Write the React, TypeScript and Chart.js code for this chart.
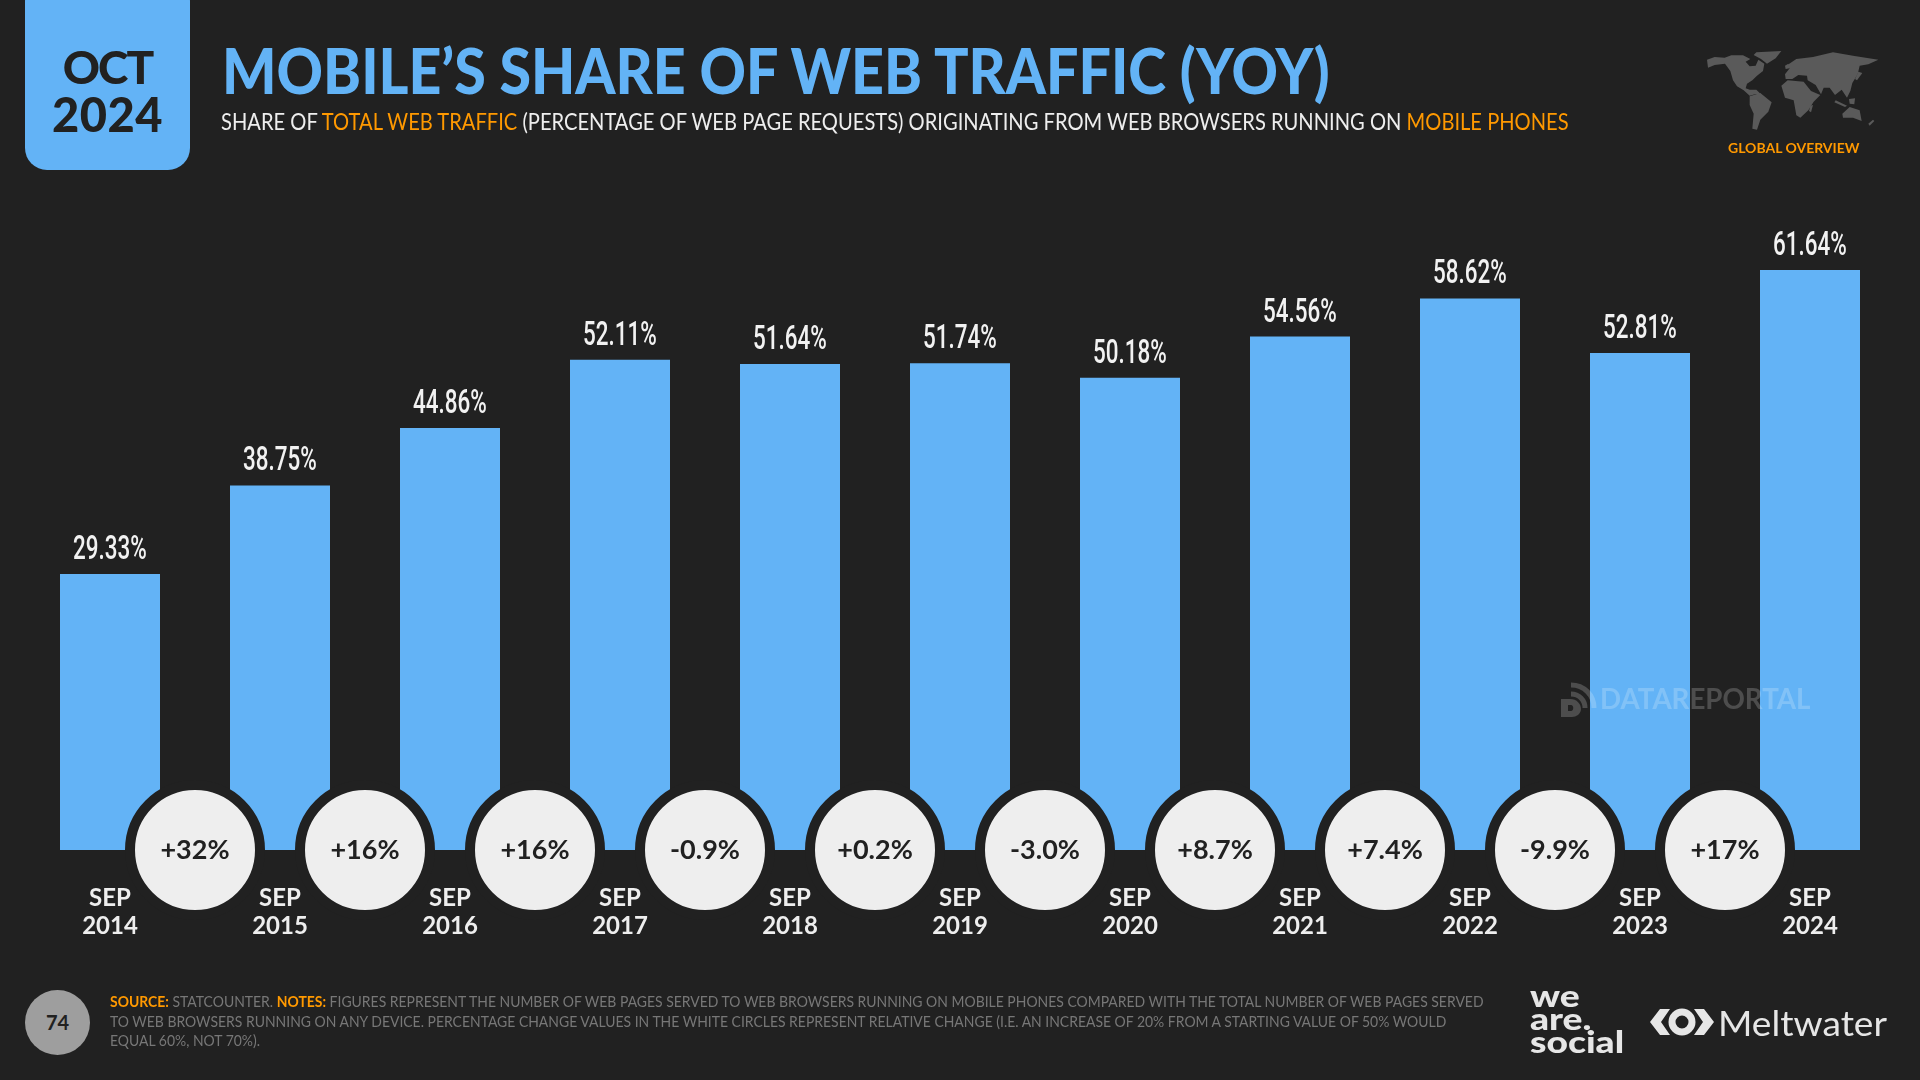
import { useEffect, useRef } from 'react';
import Chart from 'chart.js/auto';

const categories = ['2014', '2015', '2016', '2017', '2018', '2019', '2020', '2021', '2022', '2023', '2024'];
const shares = [29.33, 38.75, 44.86, 52.11, 51.64, 51.74, 50.18, 54.56, 58.62, 52.81, 61.64];
const changes = ['+32%', '+16%', '+16%', '-0.9%', '+0.2%', '-3.0%', '+8.7%', '+7.4%', '-9.9%', '+17%'];

const BG = '#212121';
const BLUE = '#63b3f6';
const ORANGE = '#ff9900';
const SANS = 'Lato, sans-serif';

const labelsPlugin = {
  id: 'barAndChangeLabels',
  afterDatasetsDraw(chart: any) {
    const ctx = chart.ctx;
    ctx.save();
    ctx.textAlign = 'center';

    // percentages above the bars, squeezed because no narrow font is installed
    ctx.fillStyle = '#f2f2f2';
    ctx.font = '500 34px Roboto, sans-serif';
    ctx.textBaseline = 'alphabetic';
    chart.getDatasetMeta(0).data.forEach((bar: any, i: number) => {
      ctx.save();
      ctx.translate(bar.x, bar.y - 15);
      ctx.scale(0.66, 1);
      ctx.fillText(shares[i].toFixed(2) + '%', 0, 0);
      ctx.restore();
    });

    // text inside the white circles
    ctx.fillStyle = BG;
    ctx.font = `700 27px ${SANS}`;
    ctx.textBaseline = 'middle';
    chart.getDatasetMeta(1).data.forEach((pt: any, i: number) => {
      ctx.fillText(changes[i], pt.x, pt.y);
    });
    ctx.restore();
  },
};

function Text({ x, y, size, weight = 400, color = '#eee', stretch = 1, children, style }: any) {
  return (
    <div
      style={{
        position: 'absolute',
        left: x,
        top: y,
        fontFamily: SANS,
        fontSize: size,
        fontWeight: weight,
        color,
        lineHeight: 1,
        whiteSpace: 'nowrap',
        transform: `scaleX(${stretch})`,
        transformOrigin: 'left top',
        ...style,
      }}
    >
      {children}
    </div>
  );
}

function WorldMap() {
  return (
    <svg style={{ position: 'absolute', left: 1707, top: 50 }} width={172} height={80} viewBox="322 150 516 238">
      <g fill="#5a5a5a">
        {/* North and Central America */}
        <path d="M322 178 345 170 375 172 395 165 430 165 452 176 438 184 450 198 468 196 476 178 494 190 490 212 472 226 458 240 442 250 438 264 450 268 470 268 484 282 466 282 450 286 432 270 412 258 400 240 392 212 376 190 345 194 325 202Z" />
        {/* Greenland */}
        <path d="M470 156 545 152 528 174 502 190 484 176 462 164Z" />
        {/* South America */}
        <path d="M450 288 482 278 516 306 506 334 482 358 472 388 458 385 462 340 450 314Z" />
        {/* Africa */}
        <path d="M545 256 564 240 612 244 634 272 662 284 642 304 626 330 602 352 590 345 582 300 556 292Z" />
        <path d="M632 316 640 314 634 336 628 332Z" />
        {/* Europe and Asia */}
        <path d="M556 222 570 204 560 196 590 176 640 170 700 156 760 166 836 178 806 192 780 196 774 222 758 248 752 272 742 292 726 268 706 284 690 262 672 262 664 282 648 254 624 240 622 226 596 224 578 236 558 236Z" />
        <path d="M556 196 566 190 570 204 558 206Z" />
        <path d="M776 214 788 218 772 240 766 236Z" />
        {/* Indonesia and Philippines */}
        <path d="M708 300 742 316 736 320 704 306Z" />
        <path d="M748 296 766 294 764 312 750 310Z" />
        {/* Australia and New Zealand */}
        <path d="M728 340 750 320 780 330 786 362 760 352 730 352Z" />
        <path d="M806 370 820 358 824 362 810 376Z" />
      </g>
    </svg>
  );
}

function MeltwaterEye() {
  return (
    <svg style={{ position: 'absolute', left: 1650, top: 1008 }} width={64} height={28} viewBox="0 0 64 28">
      <g fill="#e6e6e6">
        <path d="M0 14 10 1H20L11 14 20 27H10Z" />
        <path d="M44 1H54L64 14 54 27H44L53 14Z" />
      </g>
      <circle cx={32} cy={14} r={10} fill="none" stroke="#e6e6e6" strokeWidth={7} />
    </svg>
  );
}

function DatareportalIcon() {
  return (
    <svg style={{ position: 'absolute', left: 1560, top: 682 }} width={37} height={37} viewBox="0 0 37 37">
      <g fill="none" stroke="rgba(255,255,255,0.2)" strokeWidth={5}>
        <path d="M11 3C24 3 34 13 34 26" />
        <path d="M11 12C19 12 25 18 25 26" />
      </g>
      <path d="M1 17H10C17 17 21 22 21 27 21 32 16 35 12 35H1ZM8 23V29H11C14 29 14 23 11 23Z" fill="rgba(255,255,255,0.2)" fillRule="evenodd" />
    </svg>
  );
}

export default function App() {
  const canvasRef = useRef<HTMLCanvasElement>(null);

  useEffect(() => {
    if (!canvasRef.current) return;
    const chart = new Chart(canvasRef.current, {
      data: {
        labels: categories.map(y => ['SEP', y]),
        datasets: [
          {
            type: 'bar',
            data: shares,
            backgroundColor: BLUE,
            // grouped off: the second x axis would otherwise halve the slot
            grouped: false,
            categoryPercentage: 1,
            barPercentage: 100 / 170,
            order: 2,
          },
          {
            type: 'line',
            xAxisID: 'xChange',
            data: changes.map((_, i) => ({ x: i + 0.5, y: 0 })),
            showLine: false,
            pointRadius: 65,
            pointHoverRadius: 65,
            pointBackgroundColor: '#eeeeee',
            pointBorderColor: BG,
            pointBorderWidth: 10,
            clip: false,
            order: 1,
          },
        ],
      } as any,
      options: {
        responsive: false,
        animation: false,
        // big points must not push the chart area inwards
        layout: { autoPadding: false, padding: { top: 97.24, left: 25, right: 25, bottom: 0 } },
        plugins: { legend: { display: false }, tooltip: { enabled: false } },
        scales: {
          x: {
            offset: true,
            grid: { display: false },
            border: { display: false },
            afterFit: (scale: any) => {
              scale.height = 230;
            },
            ticks: {
              color: '#eeeeee',
              padding: 26,
              maxRotation: 0,
              z: 1,
              font: { family: SANS, size: 24, weight: 'bold', lineHeight: 28 / 24 },
            },
          },
          xChange: { type: 'linear', display: false, min: -0.5, max: 10.5 },
          y: { display: false, min: 0, max: 80 },
        },
      } as any,
      plugins: [labelsPlugin],
    });
    return () => chart.destroy();
  }, []);

  return (
    <div style={{ position: 'absolute', left: 0, top: 0, width: 1920, height: 1080, overflow: 'hidden', background: BG }}>
      <canvas ref={canvasRef} width={1920} height={1080} style={{ position: 'absolute', left: 0, top: 0 }} />

      <div style={{ position: 'absolute', left: 25, top: -20, width: 165, height: 190, background: BLUE, borderRadius: 22 }} />
      <Text x={25} y={44} size={46} weight={900} color={BG} style={{ width: 165, textAlign: 'center', letterSpacing: -2 }}>OCT</Text>
      <Text x={25} y={91} size={47} weight={900} color={BG} style={{ width: 165, textAlign: 'center', letterSpacing: 0.5 }}>2024</Text>

      <Text x={222} y={39} size={62} weight={900} stretch={0.925} color={BLUE}>MOBILE’S SHARE OF WEB TRAFFIC (YOY)</Text>
      <Text x={221} y={110} size={23} weight={400} stretch={0.875}>
        SHARE OF <span style={{ color: ORANGE }}>TOTAL WEB TRAFFIC</span> (PERCENTAGE OF WEB PAGE REQUESTS) ORIGINATING FROM WEB BROWSERS RUNNING ON <span style={{ color: ORANGE }}>MOBILE PHONES</span>
      </Text>

      <WorldMap />
      <Text x={1728} y={141} size={14} weight={700} color={ORANGE}>GLOBAL OVERVIEW</Text>

      <DatareportalIcon />
      <Text x={1600} y={683} size={29} weight={700} stretch={0.955} color="rgba(255,255,255,0.2)">DATAREPORTAL</Text>

      <div style={{ position: 'absolute', left: 25, top: 990, width: 65, height: 65, borderRadius: '50%', background: '#9e9e9e', color: BG, fontFamily: SANS, fontWeight: 700, fontSize: 20, lineHeight: '65px', textAlign: 'center' }}>74</div>
      <Text x={110} y={992} size={15} stretch={0.93} color="#777777" style={{ lineHeight: '19.6px' }}>
        <span style={{ color: ORANGE, fontWeight: 700 }}>SOURCE:</span> STATCOUNTER. <span style={{ color: ORANGE, fontWeight: 700 }}>NOTES:</span> FIGURES REPRESENT THE NUMBER OF WEB PAGES SERVED TO WEB BROWSERS RUNNING ON MOBILE PHONES COMPARED WITH THE TOTAL NUMBER OF WEB PAGES SERVED
        <br />
        TO WEB BROWSERS RUNNING ON ANY DEVICE. PERCENTAGE CHANGE VALUES IN THE WHITE CIRCLES REPRESENT RELATIVE CHANGE (I.E. AN INCREASE OF 20% FROM A STARTING VALUE OF 50% WOULD
        <br />
        EQUAL 60%, NOT 70%).
      </Text>

      <Text x={1530} y={984} size={31} weight={900} stretch={1.2} color="#e6e6e6" style={{ lineHeight: '23px' }}>
        we
        <br />
        are.
        <br />
        social
      </Text>
      <MeltwaterEye />
      <Text x={1718} y={1005} size={35} weight={400} stretch={1.06} color="#e6e6e6">Meltwater</Text>
    </div>
  );
}
